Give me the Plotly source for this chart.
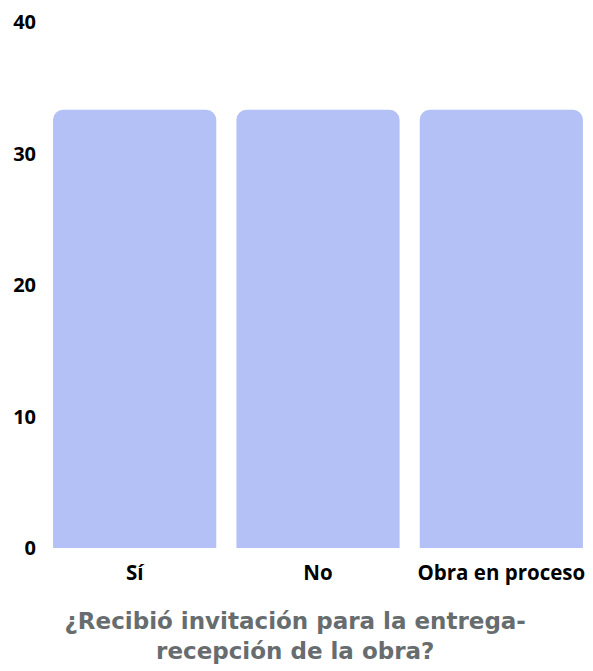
import plotly.graph_objects as go

categories = ["Sí", "No", "Obra en proceso"]
values = [33.33, 33.33, 33.33]
y_ticks = [0, 10, 20, 30, 40]
title_text = "¿Recibió invitación para la entrega-<br>recepción de la obra?"

fig = go.Figure(
    go.Bar(
        x=categories,
        y=values,
        marker=dict(color="#b3c1f6", cornerradius=10, line=dict(width=0)),
    )
)

fig.update_layout(
    width=585,
    height=663,
    margin=dict(l=35, r=0, t=11, b=123),
    plot_bgcolor="white",
    paper_bgcolor="white",
    bargap=0.11,
    showlegend=False,
    title=dict(
        text=title_text,
        font=dict(family="DejaVu Sans", size=23, color="#676c6e", weight="bold"),
        xref="container",
        x=0.491,
        xanchor="center",
        yref="container",
        y=0.063,
        yanchor="middle",
    ),
    xaxis=dict(
        tickfont=dict(family="Open Sans", size=20.5, color="black", weight="bold"),
        ticklabelstandoff=10,
        showgrid=False,
        showline=False,
        ticks="",
    ),
    yaxis=dict(
        range=[0, 40],
        tickvals=y_ticks,
        tickfont=dict(family="Open Sans", size=20, color="black", weight="bold"),
        ticklabeloverflow="allow",
        ticklabelstandoff=6,
        showgrid=False,
        zeroline=False,
        showline=False,
        ticks="",
    ),
)

fig.write_html("out.html")
